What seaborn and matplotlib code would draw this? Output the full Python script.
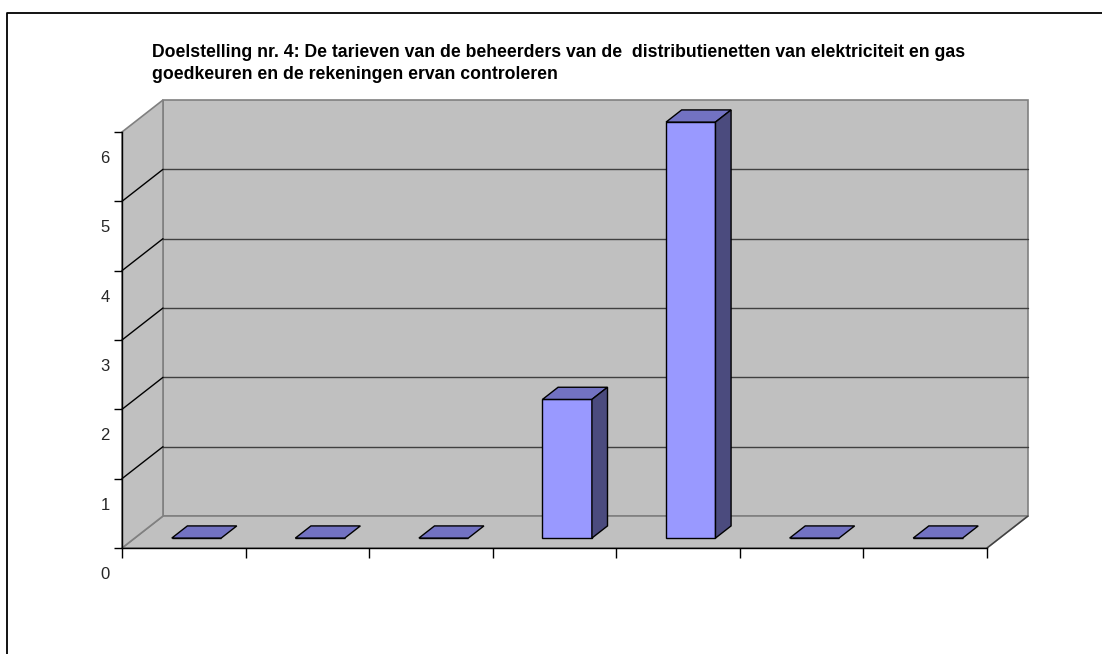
import matplotlib
matplotlib.use("Agg")
import matplotlib.pyplot as plt
from matplotlib.patches import Polygon, Rectangle
from matplotlib.lines import Line2D
from matplotlib.transforms import ScaledTranslation
import seaborn as sns

# data
categories = ["1", "2", "3", "4", "5", "6", "7"]
values = [0, 0, 0, 2, 6, 0, 0]
y_ticks = [0, 1, 2, 3, 4, 5, 6]
title = ("Doelstelling nr. 4: De tarieven van de beheerders van de  distributienetten van elektriciteit en gas\n"
         "goedkeuren en de rekeningen ervan controleren")

# colours
FRONT = "#9999ff"
TOP = "#7272c2"
SIDE = "#4b4b7e"
WALL = "#c0c0c0"
WALL_EDGE = "#808080"
GRID = "#404040"

sns.set_style("white")
plt.rcParams["font.family"] = ["Liberation Sans", "DejaVu Sans"]

W, H = 1102, 654
fig = plt.figure(figsize=(W / 100, H / 100), dpi=100)

# front plane of the plot area in pixels
left_px, right_px, base_px, top_px = 122, 987, 548, 132
ax = fig.add_axes([left_px / W, (H - base_px) / H, (right_px - left_px) / W, (base_px - top_px) / H])

ymax = 6
# depth of the 3d box in data units
DX = 41 / (right_px - left_px) * len(categories)
DY = 32 / ((base_px - top_px) / ymax)
x0, x1 = -0.5, len(categories) - 0.5

# walls
ax.add_patch(Rectangle((x0 + DX, DY), x1 - x0, ymax, facecolor=WALL, edgecolor=WALL_EDGE,
                       lw=1.2, zorder=0, clip_on=False))
ax.add_patch(Polygon([(x0, 0), (x1, 0), (x1 + DX, DY), (x0 + DX, DY)], closed=True,
                     facecolor=WALL, edgecolor=WALL_EDGE, lw=1.2, zorder=0, clip_on=False))
ax.add_patch(Polygon([(x0, 0), (x0, ymax), (x0 + DX, ymax + DY), (x0 + DX, DY)], closed=True,
                     facecolor=WALL, edgecolor=WALL_EDGE, lw=1.2, zorder=0, clip_on=False))

# gridlines on back wall and left wall
for v in y_ticks[1:-1]:
    ax.plot([x0 + DX, x1 + DX], [v + DY, v + DY], color=GRID, lw=1, zorder=0.5, clip_on=False)
    ax.plot([x0, x0 + DX], [v, v + DY], color="black", lw=1, zorder=0.5, clip_on=False)
ax.plot([x1, x1 + DX], [0, DY], color=GRID, lw=1, zorder=0.5, clip_on=False)

# bars (front faces), then shifted into the depth of the box
sns.barplot(x=categories, y=values, color=FRONT, saturation=1, width=0.4,
            edgecolor="black", linewidth=1, ax=ax, zorder=2)

f0, f1 = 0.31, 0.69
ddx, ddy = (f1 - f0) * DX, (f1 - f0) * DY
for p in list(ax.patches):
    if p.get_zorder() != 2:
        continue
    p.set_x(p.get_x() + f0 * DX)
    p.set_y(f0 * DY)
    bx0 = p.get_x()
    bx1 = bx0 + p.get_width()
    yb = p.get_y()
    yt = yb + p.get_height()
    p.set_clip_on(False)
    ax.add_patch(Polygon([(bx0, yt), (bx1, yt), (bx1 + ddx, yt + ddy), (bx0 + ddx, yt + ddy)],
                         closed=True, facecolor=TOP, edgecolor="black", lw=1, zorder=2.1, clip_on=False))
    if yt > yb:
        ax.add_patch(Polygon([(bx1, yb), (bx1 + ddx, yb + ddy), (bx1 + ddx, yt + ddy), (bx1, yt)],
                             closed=True, facecolor=SIDE, edgecolor="black", lw=1, zorder=2.1, clip_on=False))

ax.set_xlim(x0, x1)
ax.set_ylim(0, ymax)
ax.patch.set_visible(False)
for s in ["top", "right"]:
    ax.spines[s].set_visible(False)
for s in ["left", "bottom"]:
    ax.spines[s].set_color("black")
    ax.spines[s].set_linewidth(1)
    ax.spines[s].set_zorder(3)

ax.set_xticks([x0 + i for i in range(len(categories) + 1)])
ax.set_xticklabels([])
ax.tick_params(axis="x", bottom=True, direction="out", length=7.5, width=1, color="black")
ax.set_xlabel("")

ax.set_yticks(y_ticks)
ax.set_yticklabels([str(v) for v in y_ticks], fontsize=12)
ax.tick_params(axis="y", left=True, direction="out", length=6, width=1, color="black", pad=3)
# excel puts the value labels below their tick marks
shift = ScaledTranslation(0, -25 / 100, fig.dpi_scale_trans)
for lab in ax.get_yticklabels():
    lab.set_transform(lab.get_transform() + shift)

fig.text(152 / W, 1 - 44 / H, title, fontsize=12.7, fontweight="bold", ha="left", va="top",
         linespacing=1.35, color="black")

# chart border (only top and left visible)
fig.add_artist(Line2D([6.5 / W, 6.5 / W, 1], [0, 1 - 12.5 / H, 1 - 12.5 / H],
                      color="black", lw=1.3, transform=fig.transFigure))

fig.savefig("out.png", dpi=100)
